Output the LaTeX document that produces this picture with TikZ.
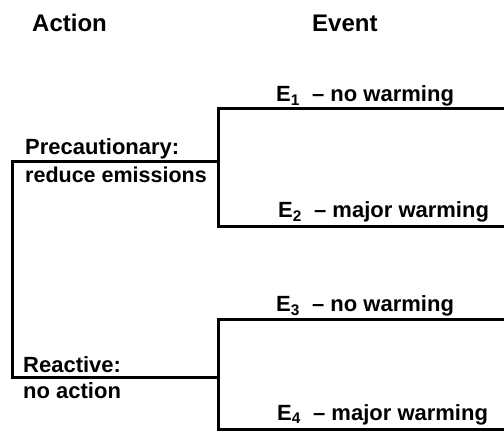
\documentclass[tikz,border=0pt]{standalone}
\usepackage{fontspec}
\setmainfont{Liberation Sans}
\begin{document}
\begin{tikzpicture}
  [x=1pt,y=-1pt,every node/.style={inner sep=0pt,anchor=base west,
   font=\bfseries\fontsize{22}{26}\selectfont}]
  \tikzstyle{branch} = [line width=3pt,line join=miter]
  \tikzstyle{title} = [font=\bfseries\fontsize{24}{28}\selectfont]
  \useasboundingbox (0,0) rectangle (504,441);
  \node[title] (action) at (32,32) {Action};
  \node[title] (event) at (312,32) {Event};
  \node (prec) at (25,155) {Precautionary:};
  \node (prec2) at (25,183) {\fontsize{21.5}{26}\selectfont reduce emissions};
  \node (reac) at (23,372) {Reactive:};
  \node (reac2) at (23,398) {no action};
  \node (e1) at (276,102) {E\textsubscript{1}\ \ -- no warming};
  \node (e2) at (278,218) {E\textsubscript{2}\ \ -- major warming};
  \node (e3) at (276,312) {E\textsubscript{3}\ \ -- no warming};
  \node (e4) at (277,420) {E\textsubscript{4}\ \ -- major warming};
  \coordinate (precfork) at (218,162);
  \coordinate (precroot) at (12,162);
  \coordinate (reacroot) at (12,377);
  \coordinate (reacfork) at (218,377);
  \coordinate (e1end) at (504,109);
  \coordinate (e1fork) at (218,109);
  \coordinate (e2fork) at (218,227);
  \coordinate (e2end) at (504,227);
  \coordinate (e3end) at (504,319);
  \coordinate (e3fork) at (218,319);
  \coordinate (e4fork) at (218,429);
  \coordinate (e4end) at (504,429);
\foreach \a/\b/\c/\d in {precfork/precroot/reacroot/reacfork,
    e1end/e1fork/e2fork/e2end,e3end/e3fork/e4fork/e4end}
   \draw[branch] (\a) -- (\b) -- (\c) -- (\d);

\end{tikzpicture}
\end{document}
